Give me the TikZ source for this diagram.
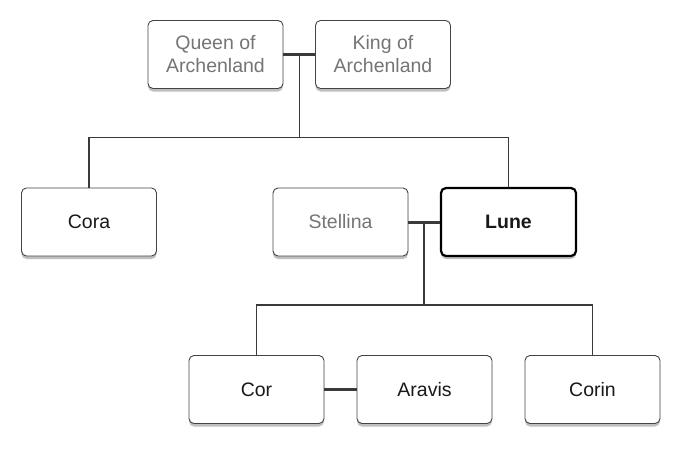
\documentclass[tikz,border=0pt]{standalone}
\usepackage{fontspec}
\setmainfont{Liberation Sans}
\usetikzlibrary{shadows,calc}
\definecolor{greytxt}{HTML}{757575}
\definecolor{boxline}{HTML}{444444}
\definecolor{conn}{HTML}{3A3A3A}
\tikzset{
  person/.style={draw=boxline, line width=0.9pt, fill=white, rounded corners=5pt,
    minimum width=135pt, minimum height=68pt, align=center, font=\fontsize{19.5}{23}\selectfont,
    text=black!90, inner sep=2pt,
    drop shadow={shadow xshift=0pt, shadow yshift=-3pt, opacity=0.25, fill=black}},
  ghost/.style={person, text=greytxt},
  main/.style={person, line width=2.2pt, draw=black, font=\fontsize{19.5}{23}\selectfont\bfseries},
  link/.style={draw=conn, line width=1.4pt},
  marry/.style={draw=conn, line width=3pt}
}
\begin{document}
\begin{tikzpicture}[x=1pt,y=-1pt]
\useasboundingbox (0,0) rectangle (680,458);
\node[ghost] (queen) at (215.5,54.5) {Queen of\\Archenland};
\node[ghost] (king) at (383,54.5) {King of\\Archenland};
\node[person] (cora) at (89,222) {Cora};
\node[ghost] (stellina) at (340.5,222) {Stellina};
\node[main] (lune) at (508.5,222) {Lune};
\node[person] (cor) at (256.5,389.5) {Cor};
\node[person] (aravis) at (424.5,389.5) {Aravis};
\node[person] (corin) at (592.5,389.5) {Corin};
% parents
\coordinate (m1) at ($(queen.east)!0.5!(king.west)$);
\coordinate (j1) at (m1 |- 0,137.5);
\draw[link] (m1) -- (j1);
\draw[link] (cora.north) |- (j1) -| (lune.north);
\draw[marry] (queen.east) -- (king.west);
% Lune & Stellina
\coordinate (m2) at ($(stellina.east)!0.5!(lune.west)$);
\coordinate (j2) at (m2 |- 0,305);
\draw[link] (m2) -- (j2);
\draw[link] (cor.north) |- (j2) -| (corin.north);
\draw[marry] (stellina.east) -- (lune.west);
% Cor & Aravis
\draw[marry] (cor.east) -- (aravis.west);
\end{tikzpicture}
\end{document}
